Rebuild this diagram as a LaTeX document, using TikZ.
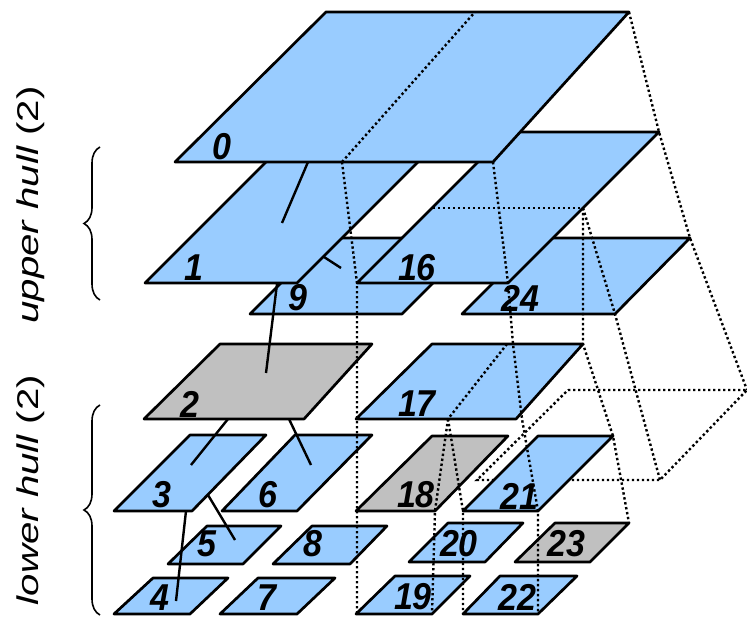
\documentclass[tikz,border=0pt]{standalone}
\usepackage{fontspec}
\setmainfont{Liberation Sans}
\usepackage{graphicx}
\usetikzlibrary{decorations.pathreplacing}
\definecolor{lblue}{RGB}{153,204,255}
\definecolor{lgray}{RGB}{192,192,192}
\tikzset{
  cell/.style={fill=lblue, draw=black, line width=2.7pt, line join=round},
  gcell/.style={cell, fill=lgray},
  link/.style={draw=black, line width=2.4pt},
  hull/.style={draw=black, line width=2.4pt, dash pattern=on 2.4pt off 2.6pt},
  lbl/.style={inner sep=0pt, font=\fontsize{34}{34}\selectfont\bfseries\itshape},
  side/.style={inner sep=0pt, rotate=90},
  brc/.style={decorate, decoration={brace, amplitude=16pt}, line width=1.6pt},
}
\newcommand\digits[1]{\scalebox{1}[1.1]{#1}}
\newcommand\sidetext[1]{\scalebox{1.34}[1]{\fontsize{30}{30}\selectfont #1}}
\begin{document}
\begin{tikzpicture}[x=1pt,y=-1pt]
\useasboundingbox (0,0) rectangle (747,617);
% hidden hull box (behind cells)
\draw[hull] (568,390) -- (747,390) -- (660,480) -- (477,480) -- cycle;
% upper levels
\path[cell] (250,314) -- (402,314) -- (478,238) -- (326,238) -- cycle;
\path[cell] (462,314) -- (615,314) -- (690,238) -- (538,238) -- cycle;
\path[cell] (145,283) -- (297,283) -- (448,132) -- (296,132) -- cycle;
\path[cell] (357,283) -- (508,283) -- (659,132) -- (508,132) -- cycle;
\path[cell] (175,162) -- (493,162) -- (629,12) -- (326,12) -- cycle;
% lower levels
\path[gcell] (144,419) -- (304,419) -- (372,344) -- (220,344) -- cycle;
\path[cell] (356,419) -- (516,419) -- (583,344) -- (432,344) -- cycle;
\path[cell] (114,511) -- (192,511) -- (266,435) -- (190,435) -- cycle;
\path[cell] (222,511) -- (297,511) -- (372,435) -- (295,435) -- cycle;
\path[gcell] (356,511) -- (435,511) -- (508,436) -- (432,436) -- cycle;
\path[cell] (463,511) -- (538,511) -- (613,436) -- (538,436) -- cycle;
\path[cell] (168,564) -- (243,564) -- (281,526) -- (207,526) -- cycle;
\path[cell] (273,564) -- (350,564) -- (387,526) -- (312,526) -- cycle;
\path[cell] (409,562) -- (485,562) -- (523,523) -- (448,523) -- cycle;
\path[gcell] (515,562) -- (590,562) -- (629,523) -- (555,523) -- cycle;
\path[cell] (114,614) -- (190,614) -- (228,578) -- (153,578) -- cycle;
\path[cell] (220,614) -- (297,614) -- (335,578) -- (258,578) -- cycle;
\path[cell] (356,614) -- (432,614) -- (470,576) -- (395,576) -- cycle;
\path[cell] (463,614) -- (538,614) -- (577,576) -- (500,576) -- cycle;
% labels
\node[lbl] (n0) at (222,147) {\digits{0}};
\node[lbl] (n1) at (194,268) {\digits{1}};
\node[lbl] (n9) at (298,298) {\digits{9}};
\node[lbl] (n16) at (417,268) {\digits{16}};
\node[lbl] (n24) at (520,298) {\digits{24}};
\node[lbl] (n2) at (190,404) {\digits{2}};
\node[lbl] (n17) at (417,404) {\digits{17}};
\node[lbl] (n3) at (162,495) {\digits{3}};
\node[lbl] (n6) at (268,495) {\digits{6}};
\node[lbl] (n18) at (416,495) {\digits{18}};
\node[lbl] (n21) at (519,496) {\digits{21}};
\node[lbl] (n5) at (207,544) {\digits{5}};
\node[lbl] (n8) at (313,544) {\digits{8}};
\node[lbl] (n20) at (459,544) {\digits{20}};
\node[lbl] (n23) at (566,544) {\digits{23}};
\node[lbl] (n4) at (160,598) {\digits{4}};
\node[lbl] (n7) at (267,598) {\digits{7}};
\node[lbl] (n19) at (413,597) {\digits{19}};
\node[lbl] (n22) at (517,597) {\digits{22}};
% tree links
\coordinate (a0) at (308,162); \coordinate (a1) at (282,223);
\coordinate (b1) at (324,257); \coordinate (b9) at (341,268);
\coordinate (c1) at (277,284); \coordinate (c2) at (266,373);
\coordinate (d2) at (228,419); \coordinate (d3) at (191,465);
\coordinate (e2) at (289,419); \coordinate (e6) at (311,465);
\coordinate (f3) at (186,511); \coordinate (f4) at (176,601);
\coordinate (g3) at (208,495); \coordinate (g5) at (235,540);
\draw[link] (a0) -- (a1);
\draw[link] (b1) -- (b9);
\draw[link] (c1) -- (c2);
\draw[link] (d2) -- (d3);
\draw[link] (e2) -- (e6);
\draw[link] (f3) -- (f4);
\draw[link] (g3) -- (g5);
% hull wireframe (dotted)
\draw[hull] (342,162) -- (475,12);
\draw[hull] (342,162) -- (357,283) -- (357,614);
\draw[hull] (493,162) -- (508,283) -- (513,344) -- (522,419) -- (538,511) -- (538,614);
\draw[hull] (433,208) -- (583,208);
\draw[hull] (583,208) -- (583,344) -- (613,436) -- (629,523);
\draw[hull] (583,208) -- (615,314) -- (660,480);
\draw[hull] (629,12) -- (659,132) -- (690,238) -- (747,390);
\draw[hull] (507,344) -- (448,419);
\draw[hull] (448,419) -- (435,511) -- (432,614);
\draw[hull] (448,419) -- (463,511) -- (463,614);
% braces and side labels
\draw[brc] (100,300) -- (100,147);
\draw[brc] (100,615) -- (100,405);
\node[side] (uh) at (31,205) {\sidetext{\itshape upper hull \upshape(2)}};
\node[side] (lh) at (31,490) {\sidetext{\itshape lower hull \upshape(2)}};
\end{tikzpicture}
\end{document}
